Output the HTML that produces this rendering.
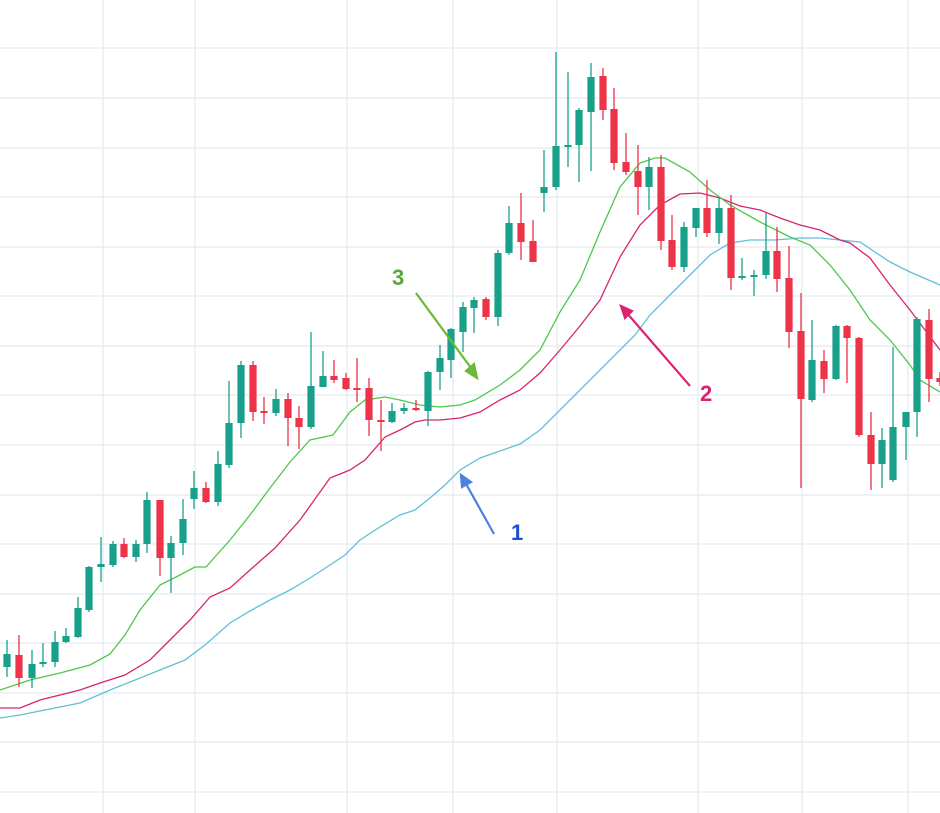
<!DOCTYPE html>
<html><head><meta charset="utf-8"><style>
html,body{margin:0;padding:0;background:#fff;width:940px;height:813px;overflow:hidden}
svg{display:block}
text{font-family:"Liberation Sans",sans-serif;font-weight:bold;font-size:22px}
</style></head><body>
<svg id="c" width="940" height="813" viewBox="0 0 940 813" xmlns="http://www.w3.org/2000/svg">
<g id="grid" stroke="#e3eaef" stroke-width="1.2"></g>
<g id="lines" fill="none" stroke-width="1.3">
<polyline stroke="#5fc0d8" points="0,718 20,715 45,710 80,703 110,690 135,680 160,670 185,660 205,645 230,623 250,611 270,600 290,590 310,578 330,565 345,555 360,540 380,527 400,515 415,510 430,498 445,485 460,470 480,458 500,451 520,444 540,430 560,410 580,390 600,370 620,350 635,335 650,315 670,295 690,275 710,255 730,243 750,240 775,240 800,238 820,238 840,240 860,242 890,262 910,272 940,285"/>
<polyline stroke="#d6246f" points="0,708 20,708 40,700 80,690 100,683 125,675 150,660 170,640 190,620 210,597 230,588 250,570 275,548 300,520 330,478 350,470 365,460 385,437 400,430 415,422 425,420 440,420 460,418 480,412 500,400 520,390 540,373 560,350 580,326 600,300 620,257 640,225 660,205 680,194 700,193 720,198 740,206 760,210 780,218 800,225 820,230 840,240 850,243 870,258 890,285 910,310 925,330 940,350"/>
<polyline stroke="#4cc84a" points="0,690 30,680 60,673 90,665 110,654 125,635 140,610 160,585 180,575 195,567 206,567 230,540 250,515 270,488 290,462 310,440 333,435 350,412 365,400 385,397 400,400 420,405 440,407 460,405 475,400 500,385 520,370 540,350 560,312 580,280 600,232 620,187 640,163 655,158 665,158 690,172 710,190 730,205 760,222 790,237 810,245 830,265 850,290 870,320 890,340 910,365 920,380 940,392"/>
</g>
<g id="candles"></g>
<g stroke-width="2.2" fill="none">
<line x1="416" y1="293" x2="474" y2="372" stroke="#6cb83a"/>
<polygon points="477,378 466,371 474,364" fill="#6cb83a" stroke="#6cb83a"/>
<line x1="690" y1="386" x2="626" y2="312" stroke="#de2272"/>
<polygon points="621,306 632,311 625,318" fill="#de2272" stroke="#de2272"/>
<line x1="494" y1="534" x2="465" y2="482" stroke="#4a82e0"/>
<polygon points="461,475 471,482 462,487" fill="#4a82e0" stroke="#4a82e0"/>
</g>
<text x="392" y="285" fill="#5aa83a">3</text>
<text x="700" y="401" fill="#de2272">2</text>
<text x="511" y="540" fill="#1e4fd0">1</text>
</svg>
<script>
var ns="http://www.w3.org/2000/svg";
var g=document.getElementById("grid");
[48,98,148,197,247,296,346,395,445,495,544,594,643,693,742,792].forEach(function(y){var l=document.createElementNS(ns,"line");l.setAttribute("x1",0);l.setAttribute("x2",940);l.setAttribute("y1",y);l.setAttribute("y2",y);g.appendChild(l);});
[103,195,347,453,557,698,802,908].forEach(function(x){var l=document.createElementNS(ns,"line");l.setAttribute("y1",0);l.setAttribute("y2",813);l.setAttribute("x1",x);l.setAttribute("x2",x);g.appendChild(l);});
// x, color(g/r), bodyTop, bodyBot, wickTop, wickBot
var C=[[7,"g",654,667,640,677],[19,"r",655,678,635,687],[32,"g",664,678,650,688],[43,"g",662,664,643,667],[55,"g",642,662,631,667],[66,"g",636,642,628,643],[78,"g",608,637,597,638],[89,"g",567,610,566,612],[101,"g",564,567,537,582],[113,"g",544,565,541,567],[124,"r",544,557,538,558],[136,"g",544,557,540,562],[147,"g",500,544,492,553],[160,"r",500,558,500,576],[171,"g",543,558,536,593],[183,"g",519,543,499,555],[194,"g",488,499,471,509],[206,"r",488,502,482,503],[218,"g",464,502,451,506],[229,"g",423,465,381,468],[241,"g",365,423,361,438],[253,"r",365,412,361,421],[264,"r",411,413,397,424],[276,"g",399,413,389,416],[288,"r",399,418,393,446],[299,"r",418,427,406,449],[311,"g",386,427,332,429],[323,"g",376,387,351,387],[334,"r",376,380,360,383],[346,"r",378,389,373,390],[357,"r",388,389,358,402],[369,"r",388,420,378,436],[381,"r",420,422,400,451],[392,"g",411,422,403,423],[404,"g",408,411,403,414],[416,"r",408,410,400,411],[428,"g",372,411,371,426],[440,"g",358,372,345,390],[451,"g",329,360,328,378],[463,"g",307,332,302,352],[474,"g",300,308,297,333],[486,"r",299,317,297,320],[498,"g",253,317,250,326],[509,"g",223,253,206,255],[521,"r",223,242,193,260],[533,"r",241,262,220,262],[544,"g",187,193,150,212],[556,"g",146,187,52,190],[568,"g",145,147,72,167],[579,"g",110,145,108,182],[591,"g",77,112,63,171],[603,"r",76,110,68,120],[614,"r",109,163,88,170],[626,"r",162,172,133,175],[638,"r",171,187,145,215],[649,"g",167,187,157,210],[661,"r",167,241,155,250],[672,"r",240,267,215,270],[684,"g",227,267,222,272],[696,"g",208,228,208,237],[707,"r",208,233,180,237],[719,"g",208,233,197,244],[731,"r",208,278,195,290],[742,"g",276,278,258,280],[754,"g",275,277,270,296],[766,"g",251,275,213,279],[777,"r",251,279,227,292],[789,"r",278,332,246,348],[801,"r",331,399,293,488],[812,"g",360,400,320,402],[824,"r",361,379,350,393],[836,"g",326,379,325,380],[847,"r",326,338,325,383],[859,"r",338,435,337,437],[871,"r",435,464,412,490],[882,"g",440,464,428,488],[893,"g",427,480,347,482],[906,"g",412,427,412,460],[917,"g",319,412,317,437],[929,"r",320,379,309,402],[940,"r",378,382,372,386]];
var cg=document.getElementById("candles");
C.forEach(function(c){var col=c[1]=="g"?"#18a08a":"#ec3348";
var w=document.createElementNS(ns,"line");w.setAttribute("x1",c[0]);w.setAttribute("x2",c[0]);w.setAttribute("y1",c[4]);w.setAttribute("y2",c[5]);w.setAttribute("stroke",col);w.setAttribute("stroke-width","1.3");cg.appendChild(w);
var r=document.createElementNS(ns,"rect");var h=Math.max(2,c[3]-c[2]);r.setAttribute("x",c[0]-3.6);r.setAttribute("width",7.2);r.setAttribute("y",c[2]);r.setAttribute("height",h);r.setAttribute("fill",col);cg.appendChild(r);});
</script>
</body></html>
